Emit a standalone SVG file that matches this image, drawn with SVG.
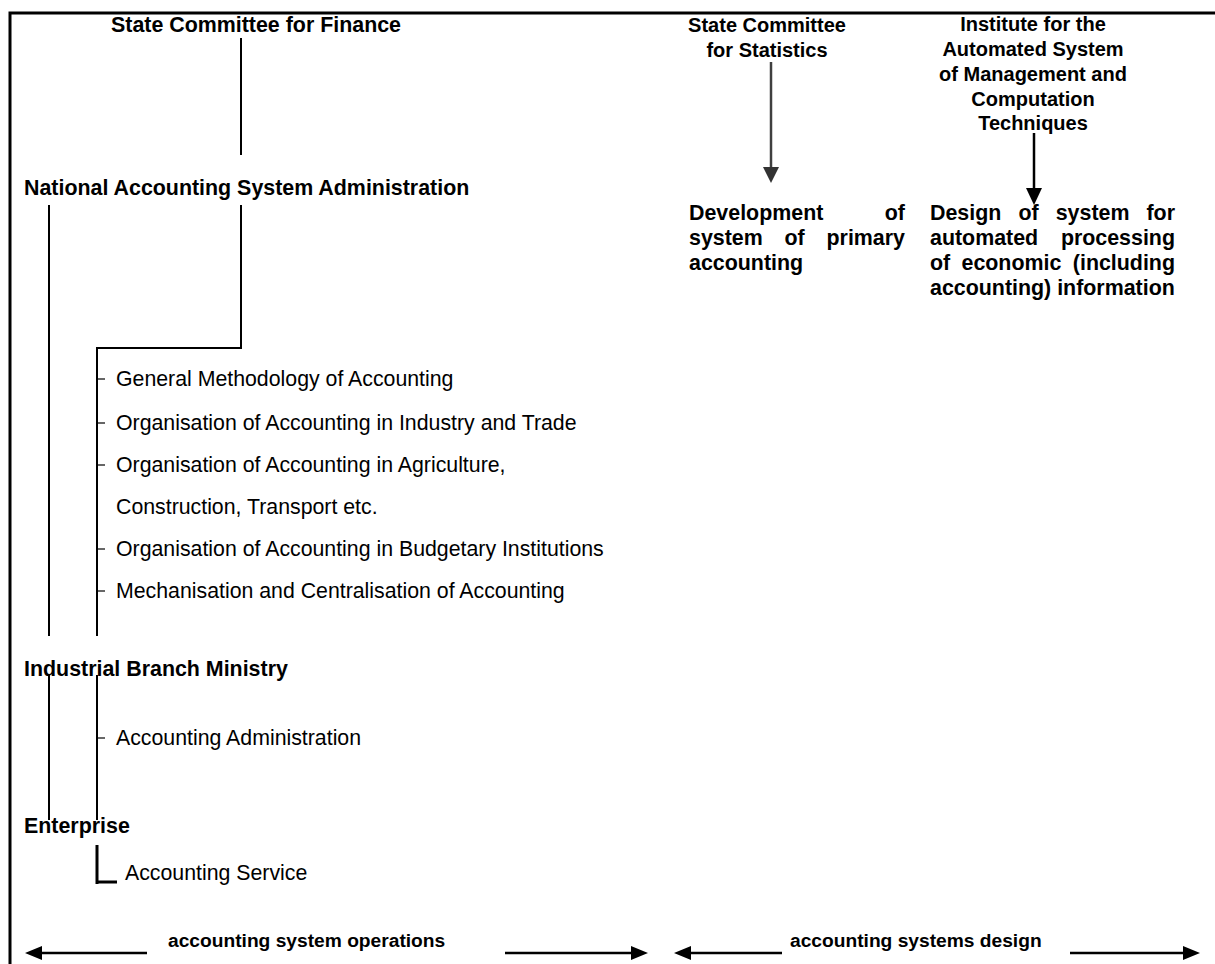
<svg xmlns="http://www.w3.org/2000/svg" width="1215" height="964" viewBox="0 0 1215 964">
<defs>
<style>
text{font-family:"Liberation Sans",Arial,sans-serif;font-size:21.3px;fill:#000}
.b{font-weight:bold;font-size:21.4px}
.h{font-size:20px}
.s{font-size:19.2px}
.c{text-anchor:middle}
.e{text-anchor:end}
.ln{stroke:#000;stroke-width:2;fill:none}
.tk{stroke:#000;stroke-width:1.2;fill:none}
</style>
</defs>
<rect width="1215" height="964" fill="#fff"/>
<g id="frame"><path d="M10,964 V13 H1215" stroke="#000" stroke-width="3" fill="none"/></g>

<g id="connectors">
<line class="ln" x1="241" y1="38" x2="241" y2="155"/>
<line class="ln" x1="49" y1="205" x2="49" y2="636"/>
<path class="ln" d="M241,205 V348 H97 V636"/>
<line class="tk" x1="97" y1="379" x2="105" y2="379"/>
<line class="tk" x1="97" y1="423" x2="105" y2="423"/>
<line class="tk" x1="97" y1="465" x2="105" y2="465"/>
<line class="tk" x1="97" y1="549" x2="105" y2="549"/>
<line class="tk" x1="97" y1="591" x2="105" y2="591"/>
<line class="ln" x1="49" y1="675" x2="49" y2="820"/>
<line class="ln" x1="97" y1="675" x2="97" y2="820"/>
<line class="tk" x1="97" y1="738" x2="105" y2="738"/>
<path d="M97,845 V884 M97,882 H117" stroke="#000" stroke-width="3" fill="none"/>
<line x1="771" y1="62" x2="771" y2="168" stroke="#404040" stroke-width="2.5"/>
<path d="M763,167 L779,167 L771,183 Z" fill="#333"/>
<line x1="1034" y1="133" x2="1034" y2="190" stroke="#000" stroke-width="2.5"/>
<path d="M1026,188 L1042,188 L1034,205 Z" fill="#000"/>
<g stroke="#000" stroke-width="2.5">
<line x1="147" y1="953" x2="40" y2="953"/>
<line x1="505" y1="953" x2="633" y2="953"/>
<line x1="782" y1="953" x2="689" y2="953"/>
<line x1="1070" y1="953" x2="1185" y2="953"/>
</g>
<path d="M25,953 L42,946 L42,960 Z M648,953 L631,946 L631,960 Z M674,953 L691,946 L691,960 Z M1200,953 L1183,946 L1183,960 Z" fill="#000"/>
</g>

<g id="state-committee-finance"><text class="b c" x="256" y="32">State Committee for Finance</text></g>
<g id="national-accounting-admin"><text class="b" x="24" y="195">National Accounting System Administration</text></g>
<g id="departments">
<text x="116" y="386">General Methodology of Accounting</text>
<text x="116" y="430">Organisation of Accounting in Industry and Trade</text>
<text x="116" y="472">Organisation of Accounting in Agriculture,</text>
<text x="116" y="514">Construction, Transport etc.</text>
<text x="116" y="556">Organisation of Accounting in Budgetary Institutions</text>
<text x="116" y="598">Mechanisation and Centralisation of Accounting</text>
</g>
<g id="industrial-branch-ministry"><text class="b" x="24" y="676">Industrial Branch Ministry</text></g>
<g id="accounting-administration"><text x="116" y="745">Accounting Administration</text></g>
<g id="enterprise"><text class="b" x="24" y="833">Enterprise</text></g>
<g id="accounting-service"><text x="125" y="880">Accounting Service</text></g>

<g id="state-committee-statistics">
<text class="b h c" x="767" y="32">State Committee</text>
<text class="b h c" x="767" y="57">for Statistics</text>
</g>
<g id="institute-asu">
<text class="b h c" x="1033" y="31">Institute for the</text>
<text class="b h c" x="1033" y="56">Automated System</text>
<text class="b h c" x="1033" y="81">of Management and</text>
<text class="b h c" x="1033" y="106">Computation</text>
<text class="b h c" x="1033" y="130">Techniques</text>
</g>
<g id="primary-accounting">
<text class="b" x="689" y="220">Development</text><text class="b e" x="905" y="220">of</text>
<text class="b" x="689" y="245">system</text><text class="b" x="784.5" y="245">of</text><text class="b e" x="905" y="245">primary</text>
<text class="b" x="689" y="270">accounting</text>
</g>
<g id="automated-processing">
<text class="b" x="930" y="220">Design</text><text class="b" x="1018.4" y="220">of</text><text class="b" x="1055.7" y="220">system</text><text class="b e" x="1175" y="220">for</text>
<text class="b" x="930" y="245">automated</text><text class="b e" x="1175" y="245">processing</text>
<text class="b" x="930" y="270">of</text><text class="b" x="961.5" y="270">economic</text><text class="b e" x="1175" y="270">(including</text>
<text class="b" x="930" y="295">accounting) information</text>
</g>
<g id="scope-labels">
<text class="b s" x="168" y="947">accounting system operations</text>
<text class="b s" x="790" y="947">accounting systems design</text>
</g>
</svg>
